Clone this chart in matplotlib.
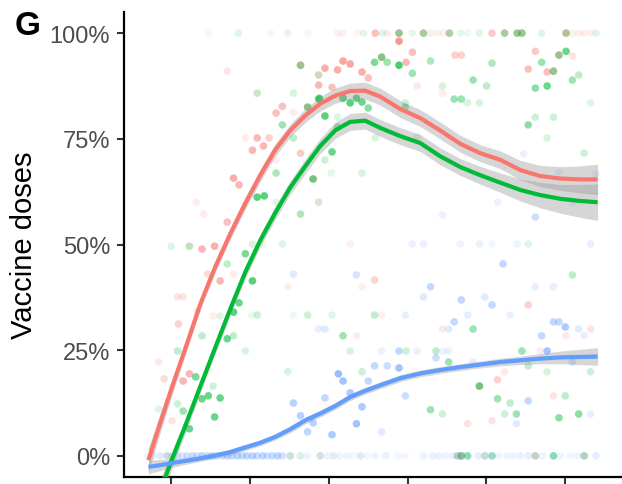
import matplotlib
matplotlib.use("Agg")
import matplotlib.pyplot as plt
from matplotlib.colors import to_rgba

plt.rcParams['font.family'] = ['Liberation Sans', 'DejaVu Sans']

# colours of the three groups (ggplot hue palette)
RED = '#F8766D'
GREEN = '#00BA38'
BLUE = '#619CFF'

# observed points: (x, share in %, weight used as alpha)
red_pts = [
    (1.47, 100, 0.06), (2.26, 100, 0.06), (2.73, 100, 0.06), (3.11, 100, 0.08), (3.18, 100, 0.08),
    (3.36, 100, 0.06), (3.59, 100, 0.35), (3.74, 100, 0.1), (3.89, 100, 0.3), (4.20, 100, 0.25),
    (4.29, 100, 0.1), (4.38, 100, 0.08), (4.45, 100, 0.08), (4.53, 100, 0.2), (5.07, 100, 0.3),
    (5.23, 100, 0.25), (5.39, 100, 0.25), (5.45, 100, 0.25), (6.01, 100, 0.35), (6.17, 100, 0.08),
    (6.24, 100, 0.1), (6.32, 100, 0.08),
    (1.71, 91.0, 0.15), (2.64, 92.4, 0.3), (2.87, 90.1, 0.15), (2.87, 87.7, 0.4), (2.41, 82.7, 0.35),
    (2.33, 81.1, 0.35), (2.55, 81.3, 0.1), (1.94, 75.2, 0.1), (2.09, 75.2, 0.4), (2.24, 75.2, 0.25),
    (2.17, 73.3, 0.4), (2.03, 72.3, 0.4), (2.64, 71.6, 0.3), (2.33, 70.0, 0.1), (1.79, 65.7, 0.45),
    (1.86, 64.1, 0.4), (1.32, 60.0, 0.1), (1.41, 57.2, 0.1), (1.71, 55.3, 0.35), (1.39, 48.9, 0.4),
    (1.55, 49.6, 0.45), (1.79, 43.0, 0.1), (1.46, 43.0, 0.2), (1.62, 41.4, 0.4), (2.48, 40.0, 0.1),
    (1.08, 37.6, 0.15), (1.15, 37.6, 0.15), (1.33, 34.3, 0.15), (1.53, 33.1, 0.1), (1.09, 31.2, 0.25),
    (0.84, 22.2, 0.12), (0.91, 18.2, 0.2), (1.15, 17.7, 0.4), (1.23, 19.4, 0.4), (1.01, 8.3, 0.15),
    (3.27, 50.1, 0.08), (3.42, 40.0, 0.1), (3.58, 41.6, 0.25), (5.53, 35.7, 0.25), (3.67, 33.3, 0.1),
    (3.35, 28.4, 0.1), (4.44, 30.0, 0.12), (6.01, 28.4, 0.12), (6.32, 30.0, 0.15), (5.68, 24.8, 0.1),
    (5.14, 18.0, 0.25), (5.23, 19.9, 0.12), (4.76, 7.6, 0.15), (5.07, 8.3, 0.15), (5.85, 14.2, 0.15),
    (3.89, 98.1, 0.6), (4.06, 95.5, 0.35), (3.98, 93.1, 0.4), (3.67, 94.3, 0.3), (3.18, 93.4, 0.5),
    (3.27, 92.7, 0.5), (2.95, 91.7, 0.45), (3.11, 91.3, 0.45), (3.42, 90.8, 0.45), (3.50, 89.4, 0.35),
    (3.04, 87.2, 0.35), (4.12, 87.5, 0.12), (4.44, 85.8, 0.1), (4.60, 94.8, 0.25), (4.68, 94.8, 0.25),
    (5.62, 95.7, 0.3), (5.77, 90.8, 0.35), (5.85, 91.0, 0.3), (5.92, 94.8, 0.3), (6.09, 94.6, 0.15),
    (5.53, 91.5, 0.35), (2.73, 82.5, 0.3), (2.80, 65.5, 0.3), (2.09, 85.8, 0.08), (1.23, 49.6, 0.08),
    (4.91, 16.5, 0.3), (2.87, 60.0, 0.08),
    (0.95, 0, 0.1), (2.51, 0, 0.08), (2.89, 0, 0.08), (4.63, 0, 0.15), (4.68, 0, 0.3),
    (4.98, 0, 0.1), (5.62, 0, 0.15), (6.24, 0, 0.15),
]

green_pts = [
    (1.85, 100, 0.1), (2.48, 100, 0.08), (3.44, 100, 0.08), (3.68, 100, 0.1), (3.89, 100, 0.3),
    (4.06, 100, 0.08), (4.20, 100, 0.25), (4.53, 100, 0.25), (4.67, 100, 0.08), (4.76, 100, 0.06),
    (4.91, 100, 0.1), (5.23, 100, 0.25), (5.39, 100, 0.3), (5.45, 100, 0.3), (5.70, 100, 0.1),
    (6.01, 100, 0.2), (6.09, 100, 0.06), (6.39, 100, 0.1),
    (2.64, 92.4, 0.3), (2.87, 90.1, 0.15), (2.87, 84.4, 0.4), (2.73, 82.5, 0.35), (2.09, 85.8, 0.15),
    (2.55, 85.8, 0.12), (2.41, 78.3, 0.3), (2.55, 75.2, 0.2), (2.80, 65.5, 0.4), (2.33, 66.9, 0.25),
    (2.09, 61.2, 0.5), (2.18, 61.5, 0.5), (2.87, 60.0, 0.12), (2.64, 57.2, 0.25), (2.33, 60.0, 0.1),
    (1.00, 49.6, 0.1), (1.23, 49.6, 0.2), (1.71, 45.4, 0.2), (1.94, 47.8, 0.4), (2.03, 50.1, 0.12),
    (2.17, 50.1, 0.06), (2.41, 50.1, 0.1), (2.03, 41.4, 0.5), (1.62, 33.1, 0.1), (1.86, 36.2, 0.45),
    (1.79, 34.0, 0.5), (2.02, 33.3, 0.06), (2.09, 33.3, 0.15), (2.55, 33.3, 0.06), (2.73, 33.3, 0.15),
    (1.39, 28.4, 0.2), (1.79, 28.4, 0.2), (1.71, 27.7, 0.45), (1.94, 24.8, 0.12), (1.08, 24.8, 0.2),
    (1.31, 18.7, 0.4), (1.53, 16.5, 0.15), (2.48, 19.9, 0.12), (0.84, 11.1, 0.1), (1.08, 12.3, 0.15),
    (1.15, 10.6, 0.3), (1.39, 13.5, 0.45), (1.47, 14.2, 0.45), (1.62, 13.7, 0.45), (1.55, 9.2, 0.45),
    (1.23, 6.4, 0.45), (5.53, 50.1, 0.1), (6.09, 42.8, 0.2), (3.04, 33.3, 0.1), (3.58, 33.3, 0.2),
    (3.18, 28.4, 0.3), (4.83, 30.0, 0.3), (3.27, 24.8, 0.12), (3.98, 24.8, 0.15), (4.36, 24.8, 0.2),
    (4.52, 22.2, 0.3), (5.45, 24.8, 0.3), (3.42, 19.9, 0.15), (4.29, 10.9, 0.3), (4.44, 9.9, 0.15),
    (4.91, 16.5, 0.4), (5.53, 21.3, 0.2), (5.77, 19.9, 0.12), (6.32, 19.9, 0.15), (5.14, 13.5, 0.3),
    (5.30, 12.5, 0.2), (5.23, 9.9, 0.15), (5.38, 9.9, 0.3), (6.00, 14.2, 0.2), (5.92, 9.0, 0.35),
    (6.17, 9.9, 0.35), (3.89, 92.4, 0.55), (3.67, 94.3, 0.35), (3.74, 93.1, 0.3), (3.58, 93.1, 0.4),
    (4.29, 93.4, 0.25), (4.06, 90.5, 0.3), (4.44, 87.5, 0.12), (5.07, 92.9, 0.25), (4.83, 88.9, 0.3),
    (5.00, 87.5, 0.2), (4.59, 84.4, 0.3), (4.68, 84.4, 0.3), (4.76, 83.5, 0.12), (4.91, 83.5, 0.12),
    (3.18, 84.6, 0.5), (3.27, 83.5, 0.5), (3.35, 84.6, 0.5), (3.42, 83.7, 0.45), (3.50, 82.3, 0.35),
    (2.88, 84.6, 0.45), (2.95, 80.4, 0.5), (3.11, 80.1, 0.1), (3.97, 83.5, 0.15), (3.97, 82.5, 0.3),
    (3.04, 71.9, 0.45), (2.95, 70.0, 0.15), (3.11, 77.8, 0.3), (3.03, 66.9, 0.08), (3.42, 66.9, 0.12),
    (3.59, 75.2, 0.12), (4.12, 75.4, 0.12), (5.70, 93.1, 0.3), (6.01, 95.7, 0.45), (5.62, 87.0, 0.35),
    (5.77, 87.5, 0.45), (6.09, 88.9, 0.3), (6.17, 90.1, 0.2), (6.32, 83.5, 0.1), (5.62, 80.1, 0.15),
    (5.85, 80.1, 0.15), (5.53, 78.3, 0.35), (5.77, 75.2, 0.12), (6.24, 71.6, 0.15), (5.85, 91.0, 0.3),
    (5.92, 94.8, 0.3),
    (0.95, 0, 0.1), (2.51, 0, 0.12), (2.64, 0, 0.08), (2.89, 0, 0.1), (3.06, 0, 0.06), (3.40, 0, 0.06),
    (4.63, 0, 0.15), (4.68, 0, 0.3), (4.76, 0, 0.3), (4.98, 0, 0.12), (5.07, 0, 0.25), (5.62, 0, 0.15),
    (5.85, 0, 0.3), (6.24, 0, 0.2),
]

blue_pts = [
    (2.55, 43.0, 0.15), (2.55, 12.5, 0.35), (2.64, 9.5, 0.35), (2.73, 5.7, 0.3), (2.80, 7.8, 0.35),
    (2.87, 30.0, 0.12), (4.06, 50.1, 0.1), (4.20, 50.1, 0.1), (4.67, 50.1, 0.08), (4.91, 50.1, 0.1),
    (5.07, 50.1, 0.06), (5.39, 50.1, 0.08), (6.32, 50.1, 0.12), (5.21, 45.4, 0.3), (3.35, 42.8, 0.2),
    (4.29, 40.0, 0.3), (4.20, 37.6, 0.15), (4.68, 36.9, 0.3), (4.98, 37.6, 0.15), (5.07, 35.7, 0.3),
    (5.62, 40.0, 0.12), (5.85, 40.0, 0.12), (3.97, 33.3, 0.12), (4.76, 33.3, 0.12), (5.30, 33.3, 0.1),
    (2.95, 30.0, 0.15), (4.52, 30.0, 0.15), (4.59, 31.7, 0.3), (5.85, 31.7, 0.3), (5.92, 31.7, 0.3),
    (6.00, 30.5, 0.4), (5.70, 28.4, 0.3), (6.17, 30.0, 0.15), (6.24, 28.4, 0.12), (3.67, 24.8, 0.1),
    (3.89, 24.8, 0.3), (4.12, 24.8, 0.1), (4.45, 24.8, 0.1), (4.52, 24.8, 0.1), (4.36, 23.2, 0.25),
    (4.83, 22.2, 0.12), (5.77, 24.8, 0.45), (6.09, 22.2, 0.2), (3.12, 19.4, 0.5), (3.18, 17.7, 0.45),
    (3.50, 17.7, 0.3), (3.58, 21.3, 0.3), (3.74, 21.3, 0.25), (3.89, 20.8, 0.45), (3.27, 14.9, 0.4),
    (2.95, 13.7, 0.3), (3.42, 11.6, 0.4), (3.35, 7.6, 0.45), (3.04, 5.0, 0.4), (3.67, 5.7, 0.15),
    (3.97, 14.2, 0.25), (5.38, 7.6, 0.15), (5.53, 13.0, 0.3), (6.32, 9.9, 0.12), (5.47, 71.4, 0.1),
    (5.14, 60.0, 0.1), (4.44, 57.0, 0.1), (5.62, 56.5, 0.25), (6.39, 66.7, 0.12), (5.92, 67.1, 0.1),
    (6.09, 59.8, 0.1),
    (0.70, 0, 0.08), (0.77, 0, 0.12), (0.86, 0, 0.15), (0.95, 0, 0.1), (1.01, 0, 0.15), (1.08, 0, 0.2),
    (1.14, 0, 0.15), (1.20, 0, 0.2), (1.27, 0, 0.25), (1.33, 0, 0.2), (1.39, 0, 0.3), (1.46, 0, 0.25),
    (1.52, 0, 0.3), (1.58, 0, 0.2), (1.65, 0, 0.25), (1.71, 0, 0.3), (1.77, 0, 0.3), (1.84, 0, 0.3),
    (1.90, 0, 0.25), (1.96, 0, 0.3), (2.03, 0, 0.3), (2.09, 0, 0.25), (2.16, 0, 0.3), (2.22, 0, 0.2),
    (2.28, 0, 0.25), (2.35, 0, 0.3), (2.41, 0, 0.2), (2.51, 0, 0.06), (2.64, 0, 0.06), (2.73, 0, 0.08),
    (2.89, 0, 0.06), (2.98, 0, 0.08), (3.06, 0, 0.06), (3.14, 0, 0.08), (3.23, 0, 0.08), (3.31, 0, 0.06),
    (3.40, 0, 0.08), (3.49, 0, 0.06), (3.59, 0, 0.08), (3.72, 0, 0.1), (3.88, 0, 0.06), (3.97, 0, 0.06),
    (4.20, 0, 0.08), (4.31, 0, 0.1), (4.39, 0, 0.1), (4.48, 0, 0.08), (4.57, 0, 0.1), (4.63, 0, 0.1),
    (4.68, 0, 0.15), (4.76, 0, 0.12), (4.90, 0, 0.12), (4.98, 0, 0.1), (5.07, 0, 0.15), (5.15, 0, 0.08),
    (5.26, 0, 0.08), (5.34, 0, 0.08), (5.43, 0, 0.1), (5.53, 0, 0.12), (5.62, 0, 0.08), (5.71, 0, 0.08),
    (5.85, 0, 0.15), (5.94, 0, 0.08), (6.06, 0, 0.06), (6.15, 0, 0.08), (6.24, 0, 0.1), (6.39, 0, 0.12),
]

# smoothed fits (loess-like), with half-width of the grey band
fit_x = [0.71, 0.86, 1.01, 1.18, 1.37, 1.56, 1.75, 1.94, 2.13, 2.32, 2.51, 2.70, 2.89, 3.08,
         3.27, 3.46, 3.65, 3.91, 4.16, 4.41, 4.67, 4.92, 5.18, 5.43, 5.68, 5.94, 6.19, 6.41]
red_fit = [-1.0, 7.8, 16.3, 25.5, 36.0, 44.8, 52.6, 59.8, 66.4, 72.4, 77.0, 80.5, 83.3, 85.2,
           86.3, 86.4, 85.0, 82.0, 79.9, 77.0, 73.8, 71.6, 70.0, 67.6, 66.2, 65.6, 65.4, 65.4]
green_fit = [-15.5, -8.2, -0.8, 7.2, 16.5, 25.7, 34.8, 43.5, 51.0, 57.5, 63.5, 68.5, 73.3, 77.0,
             79.0, 79.3, 77.6, 75.6, 74.0, 70.9, 68.3, 66.4, 64.6, 62.9, 61.7, 60.8, 60.3, 60.0]
blue_fit = [-2.6, -2.2, -1.7, -1.2, -0.6, 0.1, 0.9, 2.0, 3.1, 4.5, 6.3, 8.4, 10.0, 11.8,
            13.9, 15.4, 16.7, 18.4, 19.5, 20.3, 21.0, 21.6, 22.2, 22.6, 23.0, 23.3, 23.4, 23.5]
red_se = [3.0, 2.3, 1.8, 1.5, 1.3, 1.3, 1.3, 1.4, 1.5, 1.5, 1.5, 1.6, 1.7, 1.8,
          1.9, 2.0, 2.0, 2.0, 2.0, 2.0, 2.0, 2.0, 2.1, 2.3, 2.5, 2.8, 3.2, 3.6]
green_se = [3.5, 2.7, 2.1, 1.7, 1.5, 1.4, 1.4, 1.5, 1.5, 1.6, 1.6, 1.7, 1.8, 1.9,
            2.0, 2.0, 2.0, 2.0, 2.0, 2.0, 2.0, 2.1, 2.3, 2.6, 3.0, 3.4, 3.9, 4.3]
blue_se = [1.6, 1.3, 1.0, 0.8, 0.7, 0.7, 0.7, 0.7, 0.7, 0.7, 0.8, 0.8, 0.8, 0.8,
           0.8, 0.8, 0.8, 0.8, 0.8, 0.8, 0.8, 0.8, 0.9, 1.0, 1.2, 1.5, 1.8, 2.1]

y_ticks = [0, 25, 50, 75, 100]
y_labels = ['0%', '25%', '50%', '75%', '100%']
x_ticks = [1, 2, 3, 4, 5, 6]

fig = plt.figure(figsize=(6.22, 4.85), dpi=100)
ax = fig.add_axes([124 / 622, 7 / 485, 498 / 622, 465 / 485])

for pts, colour in [(red_pts, RED), (green_pts, GREEN), (blue_pts, BLUE)]:
    xs = [p[0] for p in pts]
    ys = [p[1] for p in pts]
    cols = [to_rgba(colour, min(0.75, p[2] * 1.3)) for p in pts]
    ax.scatter(xs, ys, s=30, c=cols, linewidths=0, zorder=2)

for fit, se, colour in [(red_fit, red_se, RED), (green_fit, green_se, GREEN), (blue_fit, blue_se, BLUE)]:
    lo = [f - s for f, s in zip(fit, se)]
    hi = [f + s for f, s in zip(fit, se)]
    ax.fill_between(fit_x, lo, hi, color='#999999', alpha=0.4, linewidth=0, zorder=3)
    ax.plot(fit_x, fit, color=colour, lw=3, solid_capstyle='butt', zorder=4)

ax.set_xlim(0.40, 6.72)
ax.set_ylim(-5, 105)
ax.set_xticks(x_ticks)
ax.set_yticks(y_ticks)
ax.set_yticklabels(y_labels)
ax.tick_params(axis='x', labelbottom=False, length=6, width=1.5, color='#333333')
ax.tick_params(axis='y', length=5, width=1.5, color='#333333', labelsize=17,
               labelcolor='#4D4D4D', pad=5)
for side in ['top', 'right']:
    ax.spines[side].set_visible(False)
for side in ['left', 'bottom']:
    ax.spines[side].set_linewidth(1.6)
    ax.spines[side].set_color('black')

fig.text(9.5 / 622, 1 - 245.5 / 485, 'Vaccine doses', rotation=90, fontsize=21,
         va='center', ha='left')
fig.text(15 / 622, 1 - 11 / 485, 'G', fontsize=24, fontweight='bold', va='top', ha='left')

fig.savefig('out.png', dpi=100)
